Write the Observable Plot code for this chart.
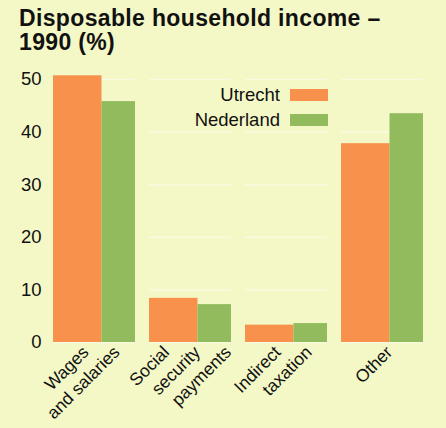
<!DOCTYPE html>
<html><head><meta charset="utf-8">
<script src="https://cdn.jsdelivr.net/npm/d3@7"></script>
<script src="https://cdn.jsdelivr.net/npm/@observablehq/plot@0.6"></script>
<style>
html,body{margin:0;padding:0;background:#f4f8c6;}
#wrap{position:relative;width:446px;height:428px;background:#f4f8c6;font-family:"Liberation Sans",Arial,sans-serif;overflow:hidden;color:#111}
#title{position:absolute;left:19px;top:6px;font-weight:bold;font-size:23px;line-height:24px;letter-spacing:0.35px;white-space:nowrap}
#chart{position:absolute;left:0;top:58px}
#legend{position:absolute;left:150px;top:82px;width:178px}
.lrow{display:flex;justify-content:flex-end;align-items:center;height:25px}
.lrow span{font-size:18.5px;margin-right:10px}
.lrow i{display:block;width:38px;height:12px}
</style></head>
<body>
<div id="wrap">
  <div id="title">Disposable household income –<br>1990 (%)</div>
  <div id="chart"></div>
  <div id="legend"></div>
</div>
<script>
const categories = ["Wages\nand salaries", "Social\nsecurity\npayments", "Indirect\ntaxation", "Other"];
const series = ["Utrecht", "Nederland"];
const colors = ["#f7914b", "#92bb5e"];
const utrecht = [50.7, 8.4, 3.3, 37.8];
const nederland = [45.8, 7.2, 3.6, 43.5];
const yTicks = [0, 10, 20, 30, 40, 50];

const rows = categories.flatMap((c, i) => [
  {cat: c, series: "Utrecht", value: utrecht[i]},
  {cat: c, series: "Nederland", value: nederland[i]}
]);
const lineRows = categories.flatMap(c => {
  const parts = c.split("\n");
  const n = parts.length;
  return parts.map((t, i) => ({cat: c, line: t, k: i - (n - 1) / 2}));
});
const ks = [...new Set(lineRows.map(d => d.k))];

const chart = Plot.plot({
  width: 446, height: 370,
  marginTop: 21, marginBottom: 86, marginLeft: 52, marginRight: 21,
  style: {background: "transparent", fontFamily: "'Liberation Sans', Arial, sans-serif", fontSize: "17px", color: "#111"},
  fx: {domain: categories, paddingInner: 0.145, paddingOuter: 0, axis: null, label: null},
  x: {domain: series, padding: 0, axis: null},
  y: {domain: [0, 50], axis: null},
  color: {domain: series, range: colors},
  marks: [
    Plot.ruleY(yTicks, {stroke: "#ffffff", strokeOpacity: 0.45, strokeWidth: 1.5}),
    Plot.barY(rows.filter(d => d.series === "Utrecht"), {fx: "cat", x: "series", y: "value", fill: "series", insetLeft: 0, insetRight: -7.5}),
    Plot.barY(rows.filter(d => d.series === "Nederland"), {fx: "cat", x: "series", y: "value", fill: "series", insetLeft: 7.5, insetRight: 0}),
    Plot.axisY(yTicks, {tickSize: 0, tickPadding: 12, fontSize: 18.5, label: null, facetAnchor: "left"}),
    ...ks.map(k => Plot.text(lineRows.filter(d => d.k === k), {
      fx: "cat", text: "line", frameAnchor: "bottom", textAnchor: "end", lineAnchor: "top",
      rotate: -45, dx: 2 + 31 * k, dy: 2, fontSize: 17.5, fill: "#111"
    }))
  ]
});
document.getElementById("chart").appendChild(chart);

const legend = document.getElementById("legend");
series.forEach((s, i) => {
  const row = document.createElement("div");
  row.className = "lrow";
  row.innerHTML = `<span>${s}</span><i style="background:${colors[i]}"></i>`;
  legend.appendChild(row);
});
</script>
</body></html>
